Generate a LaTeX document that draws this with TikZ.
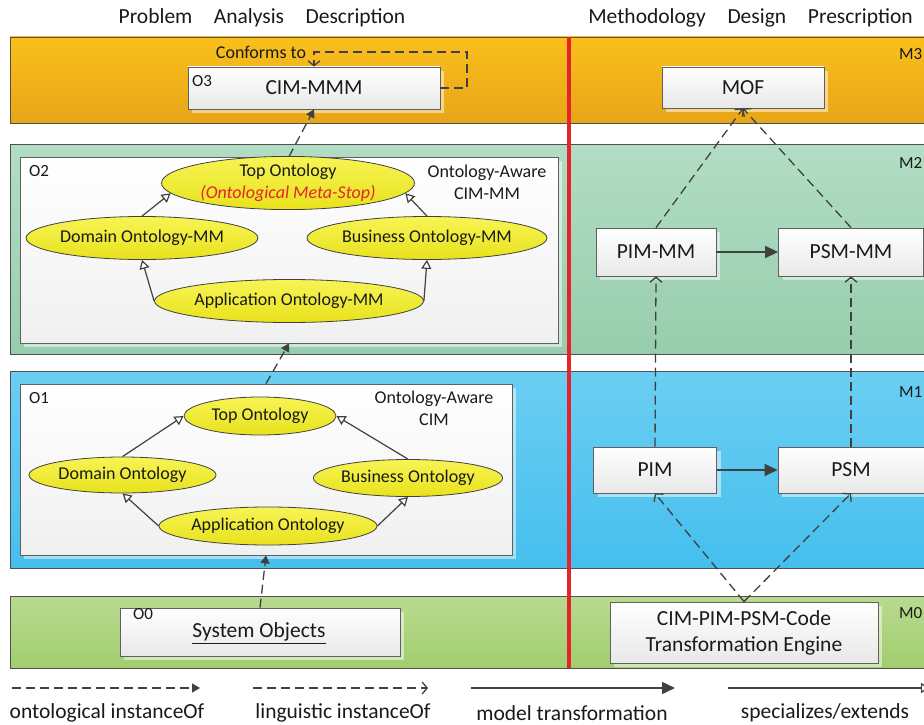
\documentclass[tikz,border=0pt]{standalone}
\usepackage{fontspec}
\setmainfont{Carlito}
\usetikzlibrary{arrows.meta,shadows,shapes.geometric}
\definecolor{txt}{HTML}{1A1A1A}
\definecolor{ln}{HTML}{404040}
\definecolor{bandline}{HTML}{505050}
\definecolor{boxline}{HTML}{606060}
\definecolor{boxbot}{HTML}{E8E8E8}
\definecolor{bigbot}{HTML}{F0F0F0}
\definecolor{orA}{HTML}{FAC01D}
\definecolor{orB}{HTML}{E7A518}
\definecolor{grA}{HTML}{B2DDC4}
\definecolor{grB}{HTML}{97CDAC}
\definecolor{blA}{HTML}{6BCEF3}
\definecolor{blB}{HTML}{45BFED}
\definecolor{lgA}{HTML}{B9DA90}
\definecolor{lgB}{HTML}{A1CD6F}
\definecolor{yelA}{HTML}{F7F455}
\definecolor{yelB}{HTML}{E8E21C}
\definecolor{redl}{HTML}{E5232A}
\begin{document}
\begin{tikzpicture}[x=1pt,y=-1pt,
  every node/.style={text=txt, inner sep=0pt},
  big/.style={font=\fontsize{21.5}{24}\selectfont},
  mid/.style={font=\fontsize{18}{21.5}\selectfont},
  small/.style={font=\fontsize{17}{20}\selectfont},
  band/.style={draw=bandline, line width=0.8pt},
  wbox/.style={rectangle, draw=boxline, line width=0.8pt, top color=white, bottom color=boxbot, drop shadow={shadow xshift=4pt, shadow yshift=-4pt, fill=white, opacity=0.5}, big},
  bigbox/.style={rectangle, draw=boxline, line width=0.8pt, top color=white, bottom color=bigbot, drop shadow={shadow xshift=4pt, shadow yshift=-4pt, fill=white, opacity=0.5}},
  ell/.style={ellipse, draw=ln, line width=0.8pt, top color=yelA, bottom color=yelB, mid},
  onto/.style={draw=ln, line width=1.3pt, dash pattern=on 9pt off 5pt, -{Triangle[length=8pt,width=9pt]}},
  ling/.style={draw=ln, line width=1.3pt, dash pattern=on 9pt off 5pt, -{Straight Barb[length=5pt,width=12pt]}},
  trans/.style={draw=ln, line width=1.5pt, -{Triangle[length=13pt,width=12pt]}},
  spec/.style={draw=ln, line width=1.2pt, -{Triangle[open,length=9pt,width=10pt,fill=white]}},
]
\useasboundingbox (0,0) rectangle (924,725);
\clip (0,0) rectangle (924,725);
\fill[white] (0,0) rectangle (924,725);

% headers
\node[big] (h1) at (262,18) {Problem\hspace{21.5pt}Analysis\hspace{21.5pt}Description};
\node[big] (h2) at (750.5,18) {Methodology\hspace{21.7pt}Design\hspace{21.7pt}Prescription};

% bands
\path[band, top color=orA, bottom color=orB] (10,37) rectangle (940,123);
\path[band, top color=grA, bottom color=grB] (10,144) rectangle (940,354);
\path[band, top color=blA, bottom color=blB] (10,371) rectangle (940,568);
\path[band, top color=lgA, bottom color=lgB] (10,596) rectangle (940,668);

% red separator
\coordinate (r1) at (569,37);
\coordinate (r2) at (569,668);
\draw[redl, line width=4pt] (r1) -- (r2);

% level labels
\node[small, anchor=west] (m3) at (899,54) {M3};
\node[small, anchor=west] (m2) at (899,163) {M2};
\node[small, anchor=west] (m1) at (899,392) {M1};
\node[small, anchor=west] (m0) at (899,613) {M0};

% O3
\node[wbox, minimum width=252pt, minimum height=42pt] (o3) at (314,88) {CIM-MMM};
\node[small, anchor=west] (o3l) at (192,81) {O3};
\node[mid] (conf) at (261,52) {Conforms to};
\coordinate (c1) at (467,88);
\coordinate (c2) at (467,52);
\coordinate (c3) at (314,52);
\draw[ling] (o3.east) -- (c1) -- (c2) -- (c3) -- (o3.north);

% O2
\node[bigbox, minimum width=538pt, minimum height=186pt] (o2box) at (289,250) {};
\node[small, anchor=west] (o2l) at (29,171) {O2};
\node[mid, align=center] (o2t) at (487,182.5) {Ontology-Aware\\CIM-MM};
\node[ell, minimum width=253pt, minimum height=41pt, align=center, font=\fontsize{18}{22}\selectfont] (top2) at (288,183) {Top Ontology\\\textcolor{redl}{\itshape(Ontological Meta-Stop)}};
\node[ell, minimum width=229pt, minimum height=43pt] (dom2) at (142,238) {Domain Ontology-MM};
\node[ell, minimum width=237pt, minimum height=43pt] (bus2) at (427,238) {Business Ontology-MM};
\node[ell, minimum width=269pt, minimum height=43pt] (app2) at (289,301) {Application Ontology-MM};
\draw[spec] (dom2.north) -- (top2.185);
\draw[spec] (bus2.north) -- (top2.355);
\draw[spec] (app2.west) -- (dom2.south);
\draw[spec] (app2.east) -- (bus2.south);

% O1
\node[bigbox, minimum width=492pt, minimum height=171pt] (o1box) at (266,469.5) {};
\node[small, anchor=west] (o1l) at (29,398) {O1};
\node[mid, align=center] (o1t) at (434,408.5) {Ontology-Aware\\CIM};
\node[ell, minimum width=152pt, minimum height=38pt] (top1) at (260,416) {Top Ontology};
\node[ell, minimum width=187pt, minimum height=36pt] (dom1) at (122.5,475) {Domain Ontology};
\node[ell, minimum width=189pt, minimum height=37pt] (bus1) at (408,478) {Business Ontology};
\node[ell, minimum width=218pt, minimum height=38pt] (app1) at (268,526) {Application Ontology};
\draw[spec] (dom1.north) -- (top1.west);
\draw[spec] (bus1.north) -- (top1.east);
\draw[spec] (app1.west) -- (dom1.south);
\draw[spec] (app1.east) -- (bus1.south);

% O0
\node[wbox, minimum width=280pt, minimum height=48pt] (sys) at (260,632) {};
\node[small, anchor=west] (o0l) at (133,614) {O0};
\node[big] (syst) at (259,633) {\underline{System Objects}};

% ontological chain
\draw[onto] (sys.north) -- (o1box.south);
\draw[onto] (o1box.north) -- (o2box.south);
\draw[onto] (o2box.north) -- (o3.south);

% right side
\node[wbox, minimum width=162pt, minimum height=41pt] (mof) at (743,87.5) {MOF};
\node[wbox, minimum width=120pt, minimum height=48pt] (pimmm) at (656,252) {PIM-MM};
\node[wbox, minimum width=145pt, minimum height=48pt] (psmmm) at (851,252) {PSM-MM};
\node[wbox, minimum width=123pt, minimum height=46pt] (pim) at (655,470) {PIM};
\node[wbox, minimum width=146pt, minimum height=46pt] (psm) at (851,470) {PSM};
\node[wbox, minimum width=268pt, minimum height=61pt, align=center, font=\fontsize{21.5}{26}\selectfont] (eng) at (744,632.5) {CIM-PIM-PSM-Code\\Transformation Engine};

\draw[ling] (pimmm.north) -- (mof.south);
\draw[ling] (psmmm.north) -- (mof.south);
\draw[ling] (pim.north) -- (pimmm.south);
\draw[ling] (psm.north) -- (psmmm.south);
\draw[ling] (eng.north) -- (pim.south);
\draw[ling] (eng.north) -- (psm.south);
\draw[trans] (pimmm.east) -- (psmmm.west);
\draw[trans] (pim.east) -- (psm.west);

% legend
\coordinate (la1) at (12,688);  \coordinate (la2) at (200,688);
\coordinate (lb1) at (253,688); \coordinate (lb2) at (428,688);
\coordinate (lc1) at (471,688); \coordinate (lc2) at (675,688);
\coordinate (ld1) at (728,688); \coordinate (ld2) at (930,688);
\draw[onto] (la1) -- (la2);
\draw[ling] (lb1) -- (lb2);
\draw[trans] (lc1) -- (lc2);
\draw[spec] (ld1) -- (ld2);
\node[big] (lta) at (107,713) {ontological instanceOf};
\node[big] (ltb) at (343,713) {linguistic instanceOf};
\node[big] (ltc) at (572,713) {model transformation};
\node[big] (ltd) at (825,713) {specializes/extends};
\end{tikzpicture}
\end{document}
